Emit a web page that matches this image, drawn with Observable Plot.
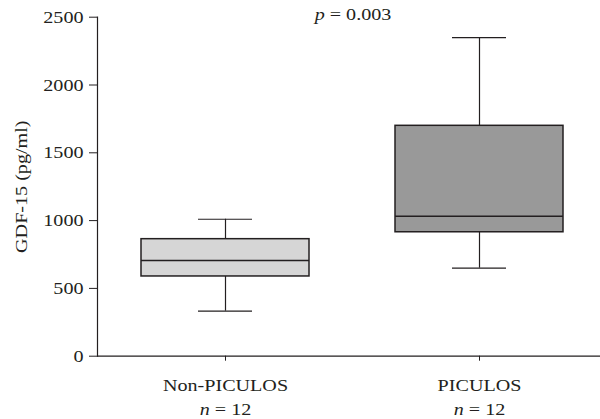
<!DOCTYPE html>
<html>
<head>
<meta charset="utf-8">
<script src="https://cdn.jsdelivr.net/npm/d3@7"></script>
<script src="https://cdn.jsdelivr.net/npm/@observablehq/plot@0.6"></script>
<style>
  html, body { margin: 0; padding: 0; background: #fff; }
</style>
</head>
<body>
<div id="chart"></div>
<script>
// Data
const groups = ["Non-PICULOS", "PICULOS"];
const groupN = [12, 12];
const whiskerMin = [332, 649];
const q1 = [588, 914];
const median = [706, 1032];
const q3 = [863, 1699];
const whiskerMax = [1010, 2350];
const fills = ["#d6d6d6", "#999999"];
const yTicks = [0, 500, 1000, 1500, 2000, 2500];
const pLabel = "p = 0.003";

const rows = groups.map((g, i) => ({
  group: g, n: groupN[i], min: whiskerMin[i], q1: q1[i], median: median[i],
  q3: q3[i], max: whiskerMax[i], fill: fills[i]
}));

const stroke = "#231f20";
const capInset = 57;

const chart = Plot.plot({
  width: 600,
  height: 419,
  marginTop: 16.7,
  marginBottom: 63.3,
  marginLeft: 97,
  marginRight: 0,
  style: { fontFamily: "'Liberation Serif', 'Times New Roman', serif", fontSize: "17.5px", color: stroke, background: "#fff" },
  x: { domain: groups, range: [97, 607], paddingInner: 0.34, paddingOuter: 0.173, label: null },
  y: { domain: [0, 2500], ticks: yTicks, label: "GDF-15 (pg/ml)" },
  marks: [
    Plot.axisY({ ticks: yTicks, tickSize: 8, tickPadding: 6, tickFormat: d => String(d), label: "GDF-15 (pg/ml)", labelAnchor: "center", labelArrow: "none", labelOffset: 83, color: stroke }),
    Plot.axisX({ tickSize: 5, tickPadding: 13, lineHeight: 1.37, tickFormat: d => d + "\nn = " + groupN[groups.indexOf(d)], label: null, color: stroke }),
    // whiskers
    Plot.ruleX(rows, { x: "group", y1: "min", y2: "q1", stroke: stroke, strokeWidth: 1.2 }),
    Plot.ruleX(rows, { x: "group", y1: "q3", y2: "max", stroke: stroke, strokeWidth: 1.2 }),
    // caps
    Plot.tickY(rows, { x: "group", y: "min", stroke: stroke, strokeWidth: 1.2, insetLeft: capInset, insetRight: capInset }),
    Plot.tickY(rows, { x: "group", y: "max", stroke: stroke, strokeWidth: 1.2, insetLeft: capInset, insetRight: capInset }),
    // boxes
    Plot.barY(rows, { x: "group", y1: "q1", y2: "q3", fill: "fill", stroke: stroke, strokeWidth: 1.5 }),
    Plot.tickY(rows, { x: "group", y: "median", stroke: stroke, strokeWidth: 1.5 }),
    // axis lines
    Plot.ruleY([0], { stroke: stroke, strokeWidth: 1.2 }),
    Plot.frame({ anchor: "left", stroke: stroke, strokeWidth: 1.2 }),
    // p value
    Plot.text([pLabel], { text: d => d, frameAnchor: "top", lineAnchor: "bottom", dx: 4, dy: 2.5, fill: stroke })
  ]
});

// Stretch glyphs horizontally (reference font is wider than Times) and italicise variables
const svg = d3.select(chart);
svg.selectAll("text").each(function() {
  const t = this.getAttribute("transform") || "";
  this.setAttribute("transform", t + " scale(1.15,1)");
});
svg.selectAll("text, tspan").each(function() {
  if (this.childElementCount === 0) {
    const s = this.textContent;
    const m = s.match(/^([np]) = (.*)$/);
    if (m) {
      this.textContent = "";
      d3.select(this).append("tspan").attr("font-style", "italic").text(m[1]);
      d3.select(this).append("tspan").text(" = " + m[2]);
    }
  }
});

document.getElementById("chart").appendChild(chart);
</script>
</body>
</html>
